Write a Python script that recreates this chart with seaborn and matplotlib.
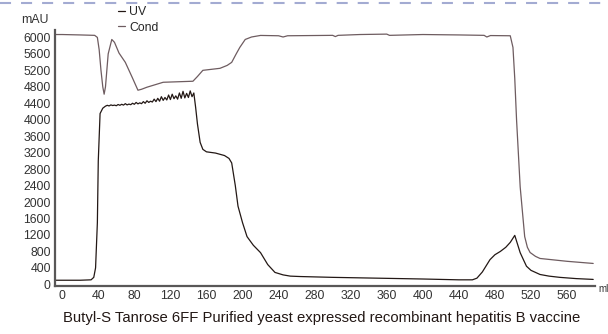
import matplotlib

matplotlib.use("Agg")
import matplotlib.pyplot as plt
import pandas as pd
import seaborn as sns
from matplotlib.lines import Line2D

# conductivity trace
cond_ml = [-8, 0, 20, 36, 39, 41, 43, 45, 46.5, 48, 51, 55, 58, 63, 70, 77.6, 84, 88,
           94, 112, 145, 150, 156, 175, 183, 188, 193, 197, 203, 210, 220, 240, 245,
           250, 300, 303, 306, 330, 360, 363, 400, 440, 468, 471, 475, 497, 500, 502,
           504, 508, 513, 516, 519, 525, 530, 560, 589]
cond_mau = [6070, 6070, 6060, 6050, 6000, 5700, 5200, 4800, 4620, 4800, 5600, 5950,
            5880, 5620, 5394, 5031, 4717, 4740, 4790, 4910, 4935, 5050, 5200, 5249,
            5320, 5394, 5600, 5757, 5950, 6010, 6048, 6040, 6010, 6040, 6050, 6020,
            6050, 6070, 6080, 6050, 6070, 6060, 6050, 6010, 6045, 6040, 5757, 5000,
            3991, 2370, 1161, 900, 774, 680, 629, 560, 508]

# UV trace, noisy loading plateau included point by point
uv_ml = [-8, 0, 20, 32, 35, 37, 39, 40, 42, 45,
         48, 50, 52, 54, 56, 58, 60, 62, 64, 66, 68, 70, 72, 74, 76, 78, 80, 82, 84,
         86, 88, 90, 92, 94, 96, 98, 100, 102, 104, 106, 108, 110, 112, 114, 116,
         118, 120, 122, 124, 126, 128, 130, 132, 134, 136, 138, 140, 142, 144, 146,
         148, 150, 153, 156, 160, 170, 180, 185, 188, 192, 195, 200, 205, 212, 220,
         228, 236, 245, 253, 264, 300, 350, 400, 440, 455, 460, 466, 474.5, 480, 486,
         492, 497, 502, 505, 508, 512, 515, 520, 530, 540, 552, 570, 589]
uv_mau = [100, 100, 100, 110, 170, 400, 1500, 3000, 4150, 4280,
          4330, 4350, 4335, 4360, 4345, 4355, 4340, 4370, 4350, 4375, 4355, 4390,
          4360, 4380, 4365, 4400, 4375, 4420, 4385, 4410, 4390, 4440, 4400, 4460,
          4420, 4450, 4430, 4500, 4440, 4520, 4450, 4560, 4470, 4540, 4480, 4600,
          4490, 4620, 4510, 4580, 4500, 4650, 4520, 4690, 4530, 4640, 4540, 4700,
          4560, 4650,
          4300, 3900, 3450, 3280, 3220, 3190, 3130, 3060, 2950, 2400, 1900, 1500,
          1160, 950, 770, 480, 290, 230, 200, 190, 170, 150, 130, 110, 110, 150,
          300, 600, 720, 800, 900, 1020, 1190, 980, 770, 580, 440, 340, 240, 200,
          170, 140, 120]

y_ticks = list(range(0, 6001, 400))
x_ticks = list(range(0, 561, 40))
title = "Butyl-S Tanrose 6FF Purified yeast expressed recombinant hepatitis B vaccine"

sns.set_theme(style="white")
plt.rcParams["font.family"] = ["Liberation Sans", "DejaVu Sans"]

fig = plt.figure(figsize=(6.08, 3.34), dpi=100)
ax = fig.add_axes([55 / 608, 48 / 334, 540 / 608, 256 / 334])

uv = pd.DataFrame({"ml": uv_ml, "mau": uv_mau})
cond = pd.DataFrame({"ml": cond_ml, "mau": cond_mau})
sns.lineplot(data=uv, x="ml", y="mau", ax=ax, color="#231815", lw=0.9, estimator=None, label="UV")
sns.lineplot(data=cond, x="ml", y="mau", ax=ax, color="#6e5c60", lw=0.9, estimator=None, label="Cond")

ax.set_xlim(-8, 591)
ax.set_ylim(-40, 6180)
ax.set_xticks(x_ticks)
ax.set_yticks(y_ticks)
ax.set_xlabel("")
ax.set_ylabel("")
ax.tick_params(length=0, labelsize=8.8, colors="#333333", pad=3)
for side in ["top", "right"]:
    ax.spines[side].set_visible(False)
for side in ["left", "bottom"]:
    ax.spines[side].set_color("#595757")
    ax.spines[side].set_linewidth(1.6)

ax.legend(loc="upper left", bbox_to_anchor=(118 / 608, 1 - 6 / 334), bbox_transform=fig.transFigure,
          frameon=False, fontsize=8.8, handlelength=0.6, handletextpad=0.3, labelspacing=0.3,
          borderpad=0, borderaxespad=0)

fig.text(35 / 608, 1 - 20 / 334, "mAU", ha="center", va="center", fontsize=8.8, color="#333333")
fig.text(598 / 608, 1 - 289 / 334, "ml", ha="left", va="center", fontsize=7, color="#333333")
fig.text(322 / 608, 1 - 318 / 334, title, ha="center", va="center", fontsize=10.7, color="#231815")

# dashed divider along the top edge
fig.add_artist(Line2D([0, 1], [1 - 3 / 334, 1 - 3 / 334], transform=fig.transFigure,
                      color="#a3abd2", lw=1.5, dashes=(5.3, 4.8)))

fig.savefig("out.png", dpi=100)
